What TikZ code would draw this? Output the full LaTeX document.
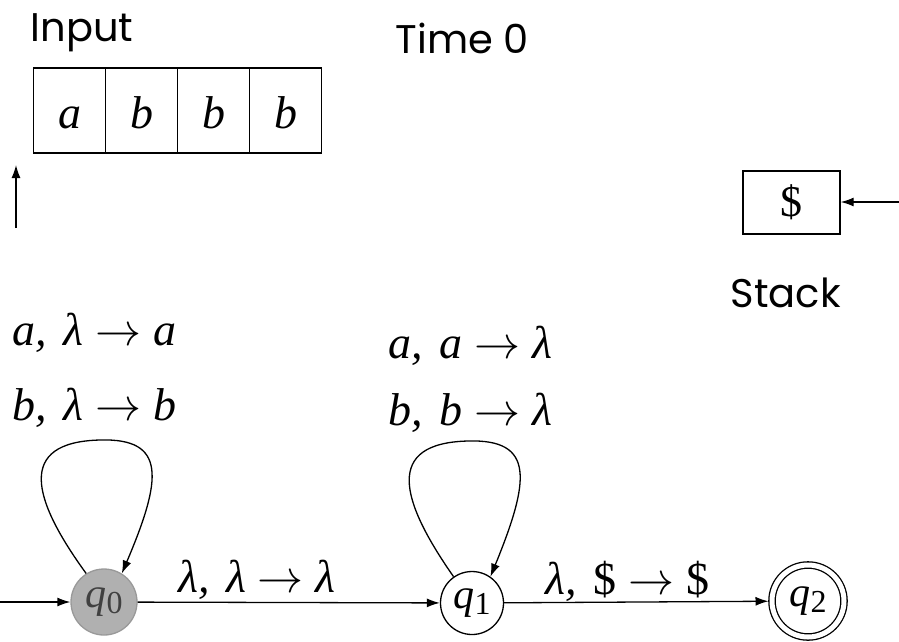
\RequirePackage{fix-cm}
\documentclass[tikz,border=0pt]{standalone}
\usepackage{fontspec}
\usetikzlibrary{arrows.meta,calc}
\newfontfamily\tms{Liberation Serif}
\newfontfamily\cmc{Poppins}
\newcommand\selfloop[3]{%
  \draw[arr] (#1.#2) .. controls ($(#1)+(-72,-103)$) and ($(#1)+(-88,-160)$) ..
    ($(#1)+(-4,-162)$) .. controls ($(#1)+(63,-164)$) and ($(#1)+(58,-123)$) .. (#1.#3);}
\newcommand\rarr{\hspace{12pt}$\rightarrow$\hspace{12pt}}
\newcommand\cma{,\hspace{16pt}}
\begin{document}
\begin{tikzpicture}[x=1pt,y=-1pt,line width=1.3pt,
  head/.style={font=\cmc\fontsize{40}{44}\selectfont,inner sep=0pt},
  lab/.style={font=\tms\itshape\fontsize{46}{48}\selectfont,inner sep=0pt},
  cell/.style={draw,minimum width=72pt,minimum height=85pt,inner sep=0pt,
    text height=35pt,text depth=0pt,
    font=\tms\itshape\fontsize{46}{48}\selectfont},
  state/.style={circle,draw,minimum size=66pt,inner sep=0pt,
    font=\tms\itshape\fontsize{42}{44}\selectfont},
  arr/.style={-{Latex[length=13pt,width=9pt]}}]
\useasboundingbox (0,0) rectangle (899,641);

% headings
\node[head,anchor=base west] (inp) at (30,41) {Input};
\node[head,anchor=base west] (time) at (395,53) {Time 0};
\node[head,anchor=base west] (stk) at (730,307) {Stack};

% input tape
\node[cell] (c1) at (69.5,110.5) {a};
\node[cell] (c2) at (141.5,110.5) {b};
\node[cell] (c3) at (213.5,110.5) {b};
\node[cell] (c4) at (285.5,110.5) {b};
\coordinate (p0) at (16,228);
\coordinate (p1) at (16,165);
\draw[arr] (p0) -- (p1);

% stack
\node[draw,minimum width=97pt,minimum height=63pt,inner sep=0pt,
  font=\tms\fontsize{44}{46}\selectfont] (sbox) at (791.5,202.5) {\raisebox{-4pt}{\$}};
\coordinate (s0) at (899,202);
\draw[arr] (s0) -- (sbox.east |- s0);

% transition labels
\node[lab,anchor=base west] (l1) at (12,345) {a\cma λ\rarr a};
\node[lab,anchor=base west] (l2) at (12,420) {b\cma λ\rarr b};
\node[lab,anchor=base west] (l3) at (388,358) {a\cma a\rarr λ};
\node[lab,anchor=base west] (l4) at (388,425) {b\cma b\rarr λ};
\node[lab,anchor=base west] (l5) at (178,592) {λ\cma λ\rarr λ};
\node[lab,anchor=base west] (l6) at (545,594) {λ\cma{\upshape\$}\rarr{\upshape\$}};

% states
\node[state,fill=gray!62,draw=gray!80,text=black!75] (q0) at (104,602) {q\raisebox{-0.3ex}{\fontsize{32}{32}\selectfont\upshape 0}};
\node[state,minimum size=63pt] (q1) at (472,603) {q\raisebox{-0.3ex}{\fontsize{32}{32}\selectfont\upshape 1}};
\node[state,minimum size=72pt,double,double distance=5pt,outer sep=3.5pt] (q2) at (808,601) {q\raisebox{-0.3ex}{\fontsize{32}{32}\selectfont\upshape 2}};

\coordinate (start) at (0,602);
\draw[arr] (start) -- (q0);
\draw[arr] (q0) -- (q1);
\draw[arr] (q1) -- (q2);
\selfloop{q0}{122}{58}
\selfloop{q1}{125}{55}
\end{tikzpicture}
\end{document}
